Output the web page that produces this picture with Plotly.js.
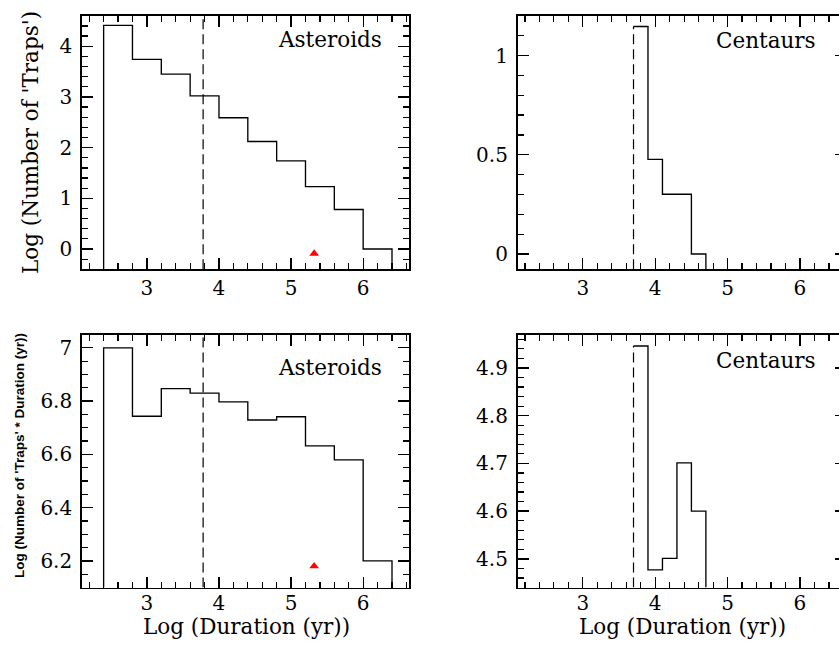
<!DOCTYPE html>
<html>
<head>
<meta charset="utf-8">
<script src="https://cdn.plot.ly/plotly-3.0.1.min.js"></script>
<style>
html,body{margin:0;padding:0;overflow:hidden;background:#fff;}
#chart{width:850px;height:645px;}
</style>
</head>
<body>
<div id="chart"></div>
<script>
// ---- data ----
const binEdgesAst = [2.4, 2.8, 3.2, 3.6, 4.0, 4.4, 4.8, 5.2, 5.6, 6.0, 6.4];
const logTrapsAst = [4.41, 3.74, 3.45, 3.02, 2.59, 2.12, 1.74, 1.23, 0.78, 0.0];
const logTrapsDurAst = [7.00, 6.743, 6.847, 6.830, 6.797, 6.729, 6.741, 6.632, 6.579, 6.20];
const binEdgesCen = [3.7, 3.9, 4.1, 4.3, 4.5, 4.7];
const logTrapsCen = [1.146, 0.477, 0.301, 0.301, 0.0];
const logTrapsDurCen = [4.946, 4.477, 4.501, 4.701, 4.60];
const thresholdAst = 3.78;
const thresholdCen = 3.70;
const markerAstX = [5.32];
const markerAstTraps = [-0.09];
const markerAstTrapsDur = [6.18];
const panelLabels = ['Asteroids', 'Centaurs', 'Asteroids', 'Centaurs'];
const xTitle = 'Log (Duration (yr))';
const yTitleTop = "Log (Number of 'Traps')";
const yTitleBottom = "Log (Number of 'Traps' * Duration (yr))";

// ---- layout geometry ----
const W = 850, H = 645;
const fx = p => p / W;
const fy = p => 1 - p / H;
const xRange = [2.1, 6.64];
const yRanges = {
  y: [-0.4, 4.6],
  y2: [-0.077, 1.2],
  y3: [6.1, 7.05],
  y4: [4.44, 4.97]
};

function stepXY(edges, vals, ymin, closeLeft) {
  const xs = [], ys = [];
  if (closeLeft) { xs.push(edges[0]); ys.push(ymin); }
  for (let i = 0; i < vals.length; i++) { xs.push(edges[i]); ys.push(vals[i]); }
  xs.push(edges[edges.length - 1]); ys.push(ymin);
  return {xs, ys};
}

const traces = [];
function addPanel(n, edges, vals, thr, thrTop, closeLeft, mx, my) {
  const xa = n === 1 ? 'x' : 'x' + n, ya = n === 1 ? 'y' : 'y' + n;
  const yr = yRanges[ya];
  const s = stepXY(edges, vals, yr[0], closeLeft);
  traces.push({x: s.xs, y: s.ys, xaxis: xa, yaxis: ya, type: 'scatter', mode: 'lines',
    line: {shape: 'hv', color: '#000', width: 1.35}, hoverinfo: 'skip', showlegend: false});
  traces.push({x: [thr, thr], y: [yr[0], thrTop], xaxis: xa, yaxis: ya, type: 'scatter', mode: 'lines',
    line: {color: '#000', width: 1.2, dash: '10px,5px'}, hoverinfo: 'skip', showlegend: false});
  if (mx) {
    traces.push({x: mx, y: my, xaxis: xa, yaxis: ya, type: 'scatter', mode: 'markers',
      marker: {symbol: 'triangle-up', color: '#ff0000', size: 8.5}, showlegend: false});
  }
  // invisible anchors so the top/right tick-only twin axes get drawn
  traces.push({x: [xRange[0]], y: [yr[0]], xaxis: 'x' + (n + 4), yaxis: ya, type: 'scatter', mode: 'markers',
    marker: {opacity: 0}, hoverinfo: 'skip', showlegend: false});
  traces.push({x: [xRange[0]], y: [yr[0]], xaxis: xa, yaxis: 'y' + (n + 4), type: 'scatter', mode: 'markers',
    marker: {opacity: 0}, hoverinfo: 'skip', showlegend: false});
}
addPanel(1, binEdgesAst, logTrapsAst, thresholdAst, yRanges.y[1], true, markerAstX, markerAstTraps);
addPanel(2, binEdgesCen, logTrapsCen, thresholdCen, logTrapsCen[0], false, null, null);
addPanel(3, binEdgesAst, logTrapsDurAst, thresholdAst, yRanges.y3[1], true, markerAstX, markerAstTrapsDur);
addPanel(4, binEdgesCen, logTrapsDurCen, thresholdCen, logTrapsDurCen[0], false, null, null);

const tickFont = {family: 'DejaVu Serif', size: 20, color: '#000'};
const tickCommon = {ticks: 'inside', ticklen: 11, tickwidth: 1.3, tickcolor: '#000',
  showgrid: false, zeroline: false, fixedrange: true, tickmode: 'linear', tick0: 0};
function minorDef(d) {
  return {ticks: 'inside', dtick: d, tick0: 0, ticklen: 6, tickwidth: 1.2, tickcolor: '#000', showgrid: false};
}
function xaxisDef(domain, anchor, standoff) {
  return Object.assign({}, tickCommon, {domain, anchor, range: xRange, dtick: 1, minor: minorDef(0.2),
    showline: true, linewidth: 1.8, linecolor: '#000', mirror: true,
    tickfont: tickFont, ticklabelstandoff: standoff});
}
function yaxisDef(domain, anchor, range, dtick, minorDtick) {
  return Object.assign({}, tickCommon, {domain, anchor, range, dtick, minor: minorDef(minorDtick),
    showline: true, linewidth: 1.8, linecolor: '#000', mirror: true, tickfont: tickFont,
    ticklabelstandoff: 4});
}
// tick-only twins for the top and right frame edges
function xTwin(over, anchor) {
  return Object.assign({}, tickCommon, {overlaying: over, anchor, side: 'top', range: xRange, dtick: 1,
    minor: minorDef(0.2), showline: false, showticklabels: false});
}
function yTwin(over, anchor, range, dtick, minorDtick) {
  return Object.assign({}, tickCommon, {overlaying: over, anchor, side: 'right', range, dtick,
    minor: minorDef(minorDtick), showline: false, showticklabels: false});
}
const dxL = [fx(82), fx(409.3)], dxR = [fx(517.7), fx(846.3)];
const dyT = [fy(269.3), fy(15.8)], dyB = [fy(587.5), fy(334.5)];

const labelFont = {family: 'DejaVu Serif', size: 21.5, color: '#000'};
const annotations = [
  {text: panelLabels[0], xref: 'paper', yref: 'paper', x: fx(384), y: fy(39), xanchor: 'right', yanchor: 'middle', showarrow: false, font: labelFont},
  {text: panelLabels[1], xref: 'paper', yref: 'paper', x: fx(818), y: fy(40), xanchor: 'right', yanchor: 'middle', showarrow: false, font: labelFont},
  {text: panelLabels[2], xref: 'paper', yref: 'paper', x: fx(384), y: fy(367), xanchor: 'right', yanchor: 'middle', showarrow: false, font: labelFont},
  {text: panelLabels[3], xref: 'paper', yref: 'paper', x: fx(818), y: fy(360), xanchor: 'right', yanchor: 'middle', showarrow: false, font: labelFont},
  {text: yTitleTop, xref: 'paper', yref: 'paper', x: fx(30), y: fy(143), xanchor: 'center', yanchor: 'middle', textangle: -90, showarrow: false, font: labelFont},
  {text: yTitleBottom, xref: 'paper', yref: 'paper', x: fx(19), y: fy(456), xanchor: 'center', yanchor: 'middle', textangle: -90, showarrow: false,
    font: {family: 'Liberation Sans', size: 13.5, color: '#000', weight: 'bold'}},
  {text: xTitle, xref: 'paper', yref: 'paper', x: fx(246), y: fy(626), xanchor: 'center', yanchor: 'middle', showarrow: false, font: labelFont},
  {text: xTitle, xref: 'paper', yref: 'paper', x: fx(682), y: fy(626), xanchor: 'center', yanchor: 'middle', showarrow: false, font: labelFont}
];

const layout = {
  width: W, height: H,
  margin: {l: 0, r: 0, t: 0, b: 0},
  paper_bgcolor: '#fff', plot_bgcolor: '#fff',
  showlegend: false,
  xaxis: xaxisDef(dxL, 'y', 0),
  yaxis: yaxisDef(dyT, 'x', yRanges.y, 1, 0.2),
  xaxis2: xaxisDef(dxR, 'y2', 0),
  yaxis2: yaxisDef(dyT, 'x2', yRanges.y2, 0.5, 0.1),
  xaxis3: xaxisDef(dxL, 'y3', -3),
  yaxis3: yaxisDef(dyB, 'x3', yRanges.y3, 0.2, 0.05),
  xaxis4: xaxisDef(dxR, 'y4', -3),
  yaxis4: yaxisDef(dyB, 'x4', yRanges.y4, 0.1, 0.02),
  xaxis5: xTwin('x', 'y'),
  xaxis6: xTwin('x2', 'y2'),
  xaxis7: xTwin('x3', 'y3'),
  xaxis8: xTwin('x4', 'y4'),
  yaxis5: yTwin('y', 'x', yRanges.y, 1, 0.2),
  yaxis6: yTwin('y2', 'x2', yRanges.y2, 0.5, 0.1),
  yaxis7: yTwin('y3', 'x3', yRanges.y3, 0.2, 0.05),
  yaxis8: yTwin('y4', 'x4', yRanges.y4, 0.1, 0.02),
  annotations
};
Plotly.newPlot('chart', traces, layout, {displayModeBar: false, staticPlot: true});
</script>
</body>
</html>
